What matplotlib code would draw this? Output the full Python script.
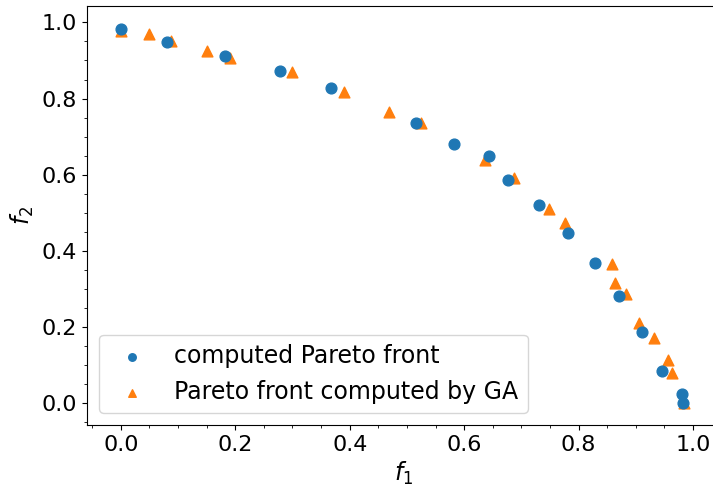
import matplotlib
matplotlib.use("Agg")
import matplotlib.pyplot as plt

# exact Pareto front (sampled)
f1_exact = [0.000, 0.080, 0.182, 0.278, 0.367, 0.515, 0.582, 0.643, 0.677,
            0.731, 0.782, 0.829, 0.871, 0.910, 0.946, 0.981, 0.983]
f2_exact = [0.983, 0.948, 0.912, 0.872, 0.829, 0.735, 0.681, 0.649, 0.587,
            0.520, 0.446, 0.368, 0.281, 0.186, 0.086, 0.025, 0.001]

# front returned by the genetic algorithm
f1_ga = [0.000, 0.050, 0.087, 0.150, 0.191, 0.300, 0.390, 0.469, 0.524,
         0.637, 0.687, 0.749, 0.776, 0.858, 0.864, 0.882, 0.906, 0.932,
         0.956, 0.964, 0.984]
f2_ga = [0.977, 0.970, 0.952, 0.924, 0.907, 0.870, 0.818, 0.766, 0.735,
         0.640, 0.592, 0.509, 0.474, 0.366, 0.317, 0.286, 0.212, 0.171,
         0.114, 0.080, 0.000]

fig = plt.figure(figsize=(7.13, 4.91), dpi=100)
ax = fig.add_axes([87 / 713, 1 - 425 / 491, 633 / 713, 419 / 491])

ax.scatter(f1_exact, f2_exact, s=60, color="tab:blue", label="computed Pareto front", zorder=3)
ax.scatter(f1_ga, f2_ga, s=60, marker="^", color="tab:orange",
           label="Pareto front computed by GA", zorder=2)

ax.set_xlim(-0.059, 1.047)
ax.set_ylim(-0.057, 1.043)
ax.set_xticks([0.0, 0.2, 0.4, 0.6, 0.8, 1.0])
ax.set_yticks([0.0, 0.2, 0.4, 0.6, 0.8, 1.0])
ax.minorticks_on()
ax.spines["right"].set_visible(False)
ax.tick_params(labelsize=16)
ax.set_xlabel("$f_1$", fontsize=17)
ax.set_ylabel("$f_2$", fontsize=17)
ax.legend(loc="lower left", fontsize=17, markerscale=0.7)

fig.savefig("out.png", dpi=100, bbox_inches=None)
